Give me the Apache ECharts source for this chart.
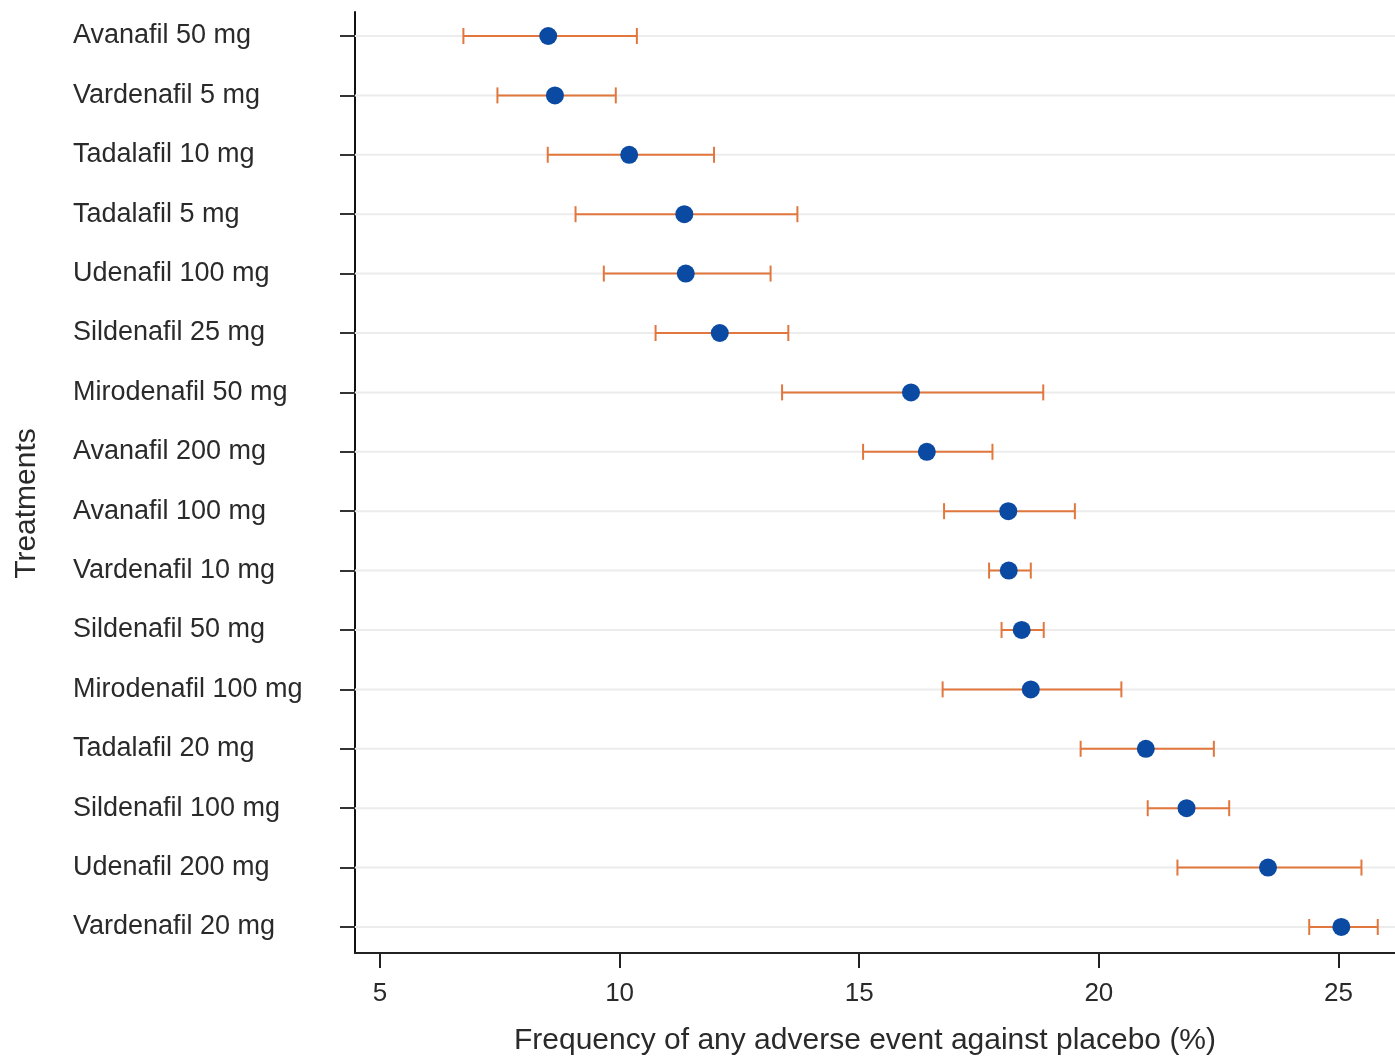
<!DOCTYPE html>
<html><head><meta charset="utf-8">
<script src="https://cdn.jsdelivr.net/npm/echarts@6/dist/echarts.min.js"></script>
<style>html,body{margin:0;padding:0;background:#fff}#c{width:1395px;height:1058px}</style>
</head><body><div id="c"></div>
<script>
const treatments = ["Avanafil 50 mg","Vardenafil 5 mg","Tadalafil 10 mg","Tadalafil 5 mg","Udenafil 100 mg","Sildenafil 25 mg","Mirodenafil 50 mg","Avanafil 200 mg","Avanafil 100 mg","Vardenafil 10 mg","Sildenafil 50 mg","Mirodenafil 100 mg","Tadalafil 20 mg","Sildenafil 100 mg","Udenafil 200 mg","Vardenafil 20 mg"];
const estimate = [8.51, 8.65, 10.20, 11.35, 11.38, 12.09, 16.08, 16.41, 18.11, 18.12, 18.39, 18.58, 20.98, 21.83, 23.53, 25.06];
const lower    = [6.74, 7.45, 8.50, 9.08, 9.67, 10.75, 13.39, 15.08, 16.77, 17.71, 17.97, 16.74, 19.62, 21.02, 21.64, 24.39];
const upper    = [10.36, 9.92, 11.97, 13.71, 13.15, 13.52, 18.84, 17.78, 19.50, 18.58, 18.85, 20.47, 22.40, 22.72, 25.48, 25.82];
const xTicks = [5, 10, 15, 20, 25];
const xName = "Frequency of any adverse event against placebo (%)";
const yName = "Treatments";

const X_MIN = 4.478, X_MAX = 26.18;
const Y_MIN = -0.404, Y_MAX = 15.438;
const rowIdx = treatments.map((_, i) => i);

const chart = echarts.init(document.getElementById('c'), null, {renderer: 'canvas'});
const font = "'Liberation Sans', Arial, sans-serif";
const textCol = '#2a2a2a';

function renderItem(params, api) {
  const k = api.value(0), lo = api.value(1), hi = api.value(2);
  const g0 = api.coord([X_MIN, k]), g1 = api.coord([X_MAX, k]);
  const a = api.coord([lo, k]), b = api.coord([hi, k]);
  const cap = 8;
  const col = '#e2773d';
  return {
    type: 'group',
    children: [
      {type: 'line', shape: {x1: g0[0], y1: g0[1], x2: g1[0], y2: g1[1]}, style: {stroke: '#ececec', lineWidth: 2}},
      {type: 'line', shape: {x1: a[0], y1: a[1], x2: b[0], y2: b[1]}, style: {stroke: col, lineWidth: 2}},
      {type: 'line', shape: {x1: a[0], y1: a[1] - cap, x2: a[0], y2: a[1] + cap}, style: {stroke: col, lineWidth: 2}},
      {type: 'line', shape: {x1: b[0], y1: b[1] - cap, x2: b[0], y2: b[1] + cap}, style: {stroke: col, lineWidth: 2}}
    ]
  };
}

chart.setOption({
  backgroundColor: '#ffffff',
  animation: false,
  grid: {left: 355, right: 0, top: 12, bottom: 105, containLabel: false, outerBoundsMode: 'none'},
  xAxis: {
    type: 'value', min: X_MIN, max: X_MAX,
    axisLine: {show: true, onZero: false, lineStyle: {color: '#222', width: 2}},
    axisTick: {show: true, length: 15, customValues: xTicks, lineStyle: {color: '#222', width: 2}},
    axisLabel: {show: true, customValues: xTicks, margin: 28, fontSize: 26, color: textCol, fontFamily: font},
    splitLine: {show: false},
    name: xName, nameLocation: 'middle', nameGap: 73,
    nameTextStyle: {fontSize: 30, color: textCol, fontFamily: font, padding: [0, 20, 0, 0]}
  },
  yAxis: {
    type: 'value', inverse: true, min: Y_MIN, max: Y_MAX,
    axisLine: {show: true, onZero: false, lineStyle: {color: '#111', width: 2}},
    axisTick: {show: true, length: 15, customValues: rowIdx, lineStyle: {color: '#333', width: 2}},
    axisLabel: {show: true, customValues: rowIdx, formatter: v => treatments[Math.round(v)] || '',
      align: 'left', margin: 282, fontSize: 27, color: textCol, fontFamily: font},
    splitLine: {show: false},
    name: yName, nameLocation: 'middle', nameGap: 313,
    nameTextStyle: {fontSize: 30, color: textCol, fontFamily: font, padding: [0, 42, 0, 0]}
  },
  series: [
    {
      type: 'custom', renderItem: renderItem,
      encode: {x: [1, 2], y: 0},
      data: rowIdx.map(i => [i, lower[i], upper[i]]),
      z: 2, silent: true
    },
    {
      type: 'scatter', symbol: 'circle', symbolSize: 18,
      itemStyle: {color: '#0b4aa2', opacity: 1},
      data: rowIdx.map(i => [estimate[i], i]),
      z: 3, silent: true
    }
  ]
});
</script>
</body></html>
